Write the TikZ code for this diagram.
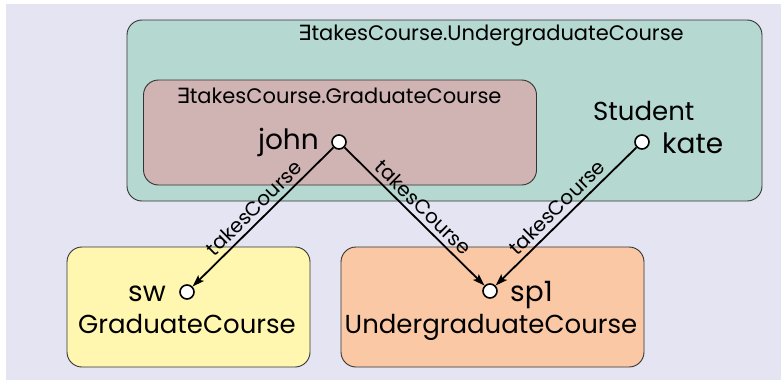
\documentclass[tikz,border=0pt]{standalone}
\usepackage{fontspec}
\setmainfont{Poppins}
\newfontfamily\symfont{DejaVu Sans}
\usetikzlibrary{arrows.meta}
\definecolor{canvas}{RGB}{228,228,242}
\definecolor{ugfill}{RGB}{181,216,208}
\definecolor{gfill}{RGB}{208,179,179}
\definecolor{gcfill}{RGB}{255,247,176}
\definecolor{ucfill}{RGB}{250,200,164}
\newcommand{\someq}{{\symfont ∃}}
\tikzset{
  setbox/.style={draw=black!80, line width=0.9pt, rounded corners=15pt, inner sep=0pt},
  indiv/.style={circle, draw=black, line width=1.6pt, fill=white, minimum size=14pt, inner sep=0pt},
  classtxt/.style={font=\fontsize{26}{26}\selectfont, inner sep=0pt},
  indtxt/.style={font=\fontsize{28}{28}\selectfont, inner sep=0pt},
  smalltxt/.style={font=\fontsize{21}{21}\selectfont, inner sep=0pt},
  role/.style={-{Stealth[length=12pt,width=8pt,inset=2.5pt]}, line width=1.8pt},
  rolelbl/.style={sloped, above, font=\fontsize{20}{20}\selectfont, inner sep=4.5pt}
}
\begin{document}
\begin{tikzpicture}[x=1pt,y=-1pt]
\useasboundingbox (0,0) rectangle (781,380);
\fill[white] (0,0) rectangle (781,380);
\fill[canvas] (6,4) rectangle (781,380);

% concept regions
\node[setbox, fill=ugfill, minimum width=635pt, minimum height=181pt] (ugset) at (444.5,110.5) {};
\node[setbox, fill=gfill, minimum width=393pt, minimum height=105pt] (gset) at (340,132.5) {};
\node[setbox, fill=gcfill, minimum width=243pt, minimum height=120pt] (gcbox) at (188.5,307) {};
\node[setbox, fill=ucfill, minimum width=303pt, minimum height=120pt] (ucbox) at (492.5,307) {};

% concept names
\node[smalltxt, anchor=base] (ugname) at (491,40) {\someq takesCourse.UndergraduateCourse};
\node[smalltxt, anchor=base] (gname) at (339,103) {\someq takesCourse.GraduateCourse};
\node[classtxt, anchor=base west] (stname) at (593,120) {Student};
\node[classtxt, anchor=base] (gcname) at (187,333) {GraduateCourse};
\node[classtxt, anchor=base] (ucname) at (491,333) {UndergraduateCourse};

% individuals
\node[indiv] (john) at (339,142) {};
\node[indiv] (kate) at (642,142) {};
\node[indiv] (sw) at (187,292) {};
\node[indiv] (sp1) at (490,291) {};

\node[indtxt, anchor=base east] (johnname) at (319,149) {john};
\node[indtxt, anchor=base west] (katename) at (662,153) {kate};
\node[indtxt, anchor=base east] (swname) at (166,301) {sw};
\node[indtxt, anchor=base west] (sp1name) at (510,301) {sp1};

% role assertions
\draw[role] (john) -- node[rolelbl] {takesCourse} (sw);
\draw[role] (john) -- node[rolelbl] {takesCourse} (sp1);
\draw[role] (kate) -- node[rolelbl] {takesCourse} (sp1);
\end{tikzpicture}
\end{document}
